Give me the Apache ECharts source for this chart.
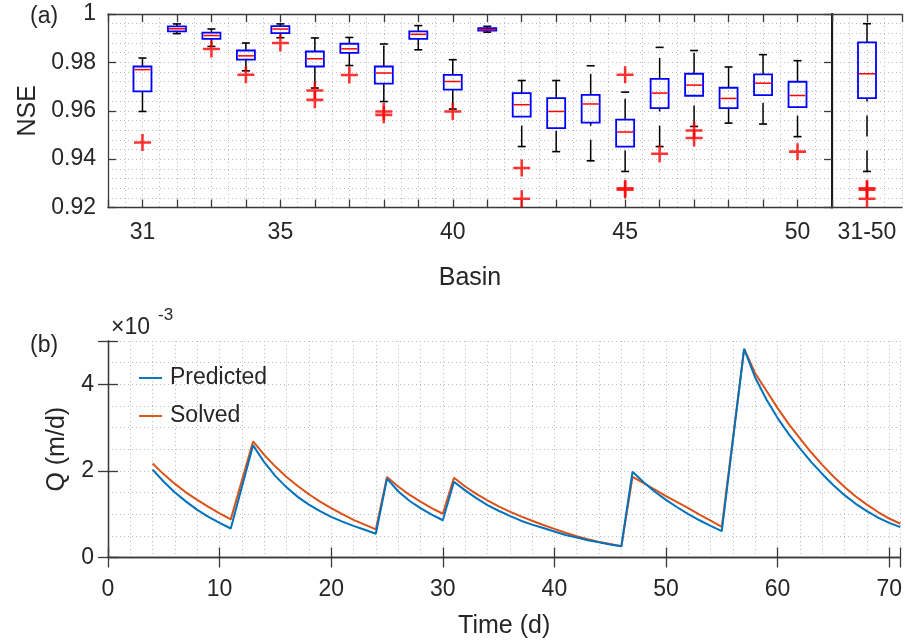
<!DOCTYPE html>
<html>
<head>
<meta charset="utf-8">
<title>NSE by basin and discharge</title>
<script src="https://cdn.jsdelivr.net/npm/echarts@6/dist/echarts.min.js"></script>
<style>
  html, body { margin: 0; padding: 0; background: #fff; }
  #chart { width: 905px; height: 640px; }
</style>
</head>
<body>
<div id="chart"></div>
<script>
// ---- Panel (a): NSE box statistics per basin ----
const BASINS        = [31, 32, 33, 34, 35, 36, 37, 38, 39, 40, 41, 42, 43, 44, 45, 46, 47, 48, 49, 50];
const LOWER_WHISKER = [0.9597, 0.9919, 0.9866, 0.9765, 0.9902, 0.9694, 0.9787, 0.9638, 0.9852, 0.9607,
                       0.9925, 0.9452, 0.9431, 0.9393, 0.9349, 0.9452, 0.9535, 0.9549, 0.9545, 0.9493];
const Q1            = [0.9680, 0.9928, 0.9897, 0.9811, 0.9921, 0.9783, 0.9839, 0.9712, 0.9897, 0.9687,
                       0.9931, 0.9576, 0.9528, 0.9551, 0.9452, 0.9611, 0.9662, 0.9611, 0.9665, 0.9615];
const MEDIAN        = [0.9770, 0.9939, 0.9911, 0.9827, 0.9938, 0.9815, 0.9856, 0.9756, 0.9916, 0.9721,
                       0.9935, 0.9625, 0.9597, 0.9628, 0.9512, 0.9673, 0.9706, 0.9651, 0.9714, 0.9663];
const Q3            = [0.9783, 0.9949, 0.9923, 0.9849, 0.9950, 0.9845, 0.9877, 0.9783, 0.9928, 0.9748,
                       0.9941, 0.9673, 0.9652, 0.9666, 0.9563, 0.9732, 0.9753, 0.9695, 0.9750, 0.9720];
const UPPER_WHISKER = [0.9818, 0.9959, 0.9938, 0.9880, 0.9959, 0.9901, 0.9903, 0.9876, 0.9952, 0.9811,
                       0.9949, 0.9725, 0.9725, 0.9786, 0.9677, 0.9862, 0.9849, 0.9781, 0.9832, 0.9807];
// [basin, NSE] outliers
const OUTLIERS = [
  [31, 0.9469], [33, 0.9855], [34, 0.9749], [35, 0.9880], [36, 0.9684], [36, 0.9645],
  [37, 0.9748], [38, 0.9597], [38, 0.9583], [40, 0.9597], [42, 0.9363], [42, 0.9236],
  [45, 0.9749], [45, 0.9280], [45, 0.9273], [46, 0.9422], [47, 0.9518], [47, 0.9487],
  [50, 0.9431]
];
const BASIN_LABELS = [31, 35, 40, 45, 50];

// All basins pooled: [lower whisker, q1, median, q3, upper whisker]
const POOLED_STATS    = [0.9349, 0.9652, 0.9753, 0.9883, 0.9960];
const POOLED_OUTLIERS = [0.9280, 0.9273, 0.9236];
const POOLED_LABEL    = '31-50';

// ---- Panel (b): discharge time series, Q in 1e-3 m/d ----
const TIME_D = [4, 5, 6, 7, 8, 9, 10, 11,
                13, 14, 15, 16, 17, 18, 19, 20, 21, 22, 23, 24,
                25, 26, 27, 28, 29, 30,
                31, 32, 33, 34, 35, 36, 37, 38, 39, 40, 41, 42, 43, 44, 45, 46,
                47, 48, 49, 50, 51, 52, 53, 54, 55,
                57, 58, 59, 60, 61, 62, 63, 64, 65, 66, 67, 68, 69, 70, 71];
const PREDICTED = [2.03, 1.75, 1.50, 1.29, 1.10, 0.94, 0.80, 0.67,
                   2.59, 2.20, 1.88, 1.62, 1.40, 1.22, 1.07, 0.94, 0.83, 0.73, 0.64, 0.55,
                   1.82, 1.53, 1.31, 1.14, 0.99, 0.86,
                   1.75, 1.55, 1.37, 1.21, 1.08, 0.96, 0.85, 0.76, 0.68, 0.60, 0.52, 0.46, 0.40, 0.35, 0.30, 0.26,
                   1.98, 1.74, 1.52, 1.33, 1.16, 1.00, 0.86, 0.73, 0.61,
                   4.82, 4.15, 3.65, 3.22, 2.85, 2.52, 2.21, 1.93, 1.67, 1.44, 1.24, 1.07, 0.92, 0.80, 0.70];
const SOLVED    = [2.17, 1.92, 1.70, 1.50, 1.33, 1.17, 1.02, 0.88,
                   2.68, 2.37, 2.10, 1.86, 1.65, 1.46, 1.29, 1.14, 1.00, 0.87, 0.76, 0.65,
                   1.86, 1.64, 1.45, 1.29, 1.14, 1.01,
                   1.84, 1.64, 1.47, 1.32, 1.18, 1.06, 0.95, 0.85, 0.75, 0.66, 0.57, 0.49, 0.42, 0.36, 0.31, 0.26,
                   1.86, 1.72, 1.57, 1.42, 1.28, 1.14, 0.99, 0.85, 0.71,
                   4.82, 4.25, 3.85, 3.45, 3.08, 2.75, 2.43, 2.14, 1.87, 1.63, 1.41, 1.22, 1.05, 0.90, 0.78];

// ---- styling ----
const FONT = '"Liberation Sans", Arial, Helvetica, sans-serif';
const INK = '#262626';
const FRAME = { color: '#3a3a3a', width: 1.3 };
const GRID_DOTS = { color: '#bdbdbd', width: 1, type: [1, 3] };
const BOX_W = 18;
const CAP_W = 8;

const boxRows = BASINS.map((b, i) => [b, LOWER_WHISKER[i], Q1[i], MEDIAN[i], Q3[i], UPPER_WHISKER[i]]);
const pooledRow = [[1].concat(POOLED_STATS)];

function renderBox(params, api) {
  const x = api.value(0);
  const lo = api.coord([x, api.value(1)]);
  const q1 = api.coord([x, api.value(2)]);
  const md = api.coord([x, api.value(3)]);
  const q3 = api.coord([x, api.value(4)]);
  const hi = api.coord([x, api.value(5)]);
  const cx = lo[0];
  const whisker = { stroke: '#000', lineWidth: 1.5, lineDash: [21, 14] };
  const cap = { stroke: '#000', lineWidth: 1.6 };
  return {
    type: 'group',
    children: [
      { type: 'line', shape: { x1: cx, y1: lo[1], x2: cx, y2: q1[1] }, style: whisker },
      { type: 'line', shape: { x1: cx, y1: q3[1], x2: cx, y2: hi[1] }, style: whisker },
      { type: 'line', shape: { x1: cx - CAP_W / 2, y1: lo[1], x2: cx + CAP_W / 2, y2: lo[1] }, style: cap },
      { type: 'line', shape: { x1: cx - CAP_W / 2, y1: hi[1], x2: cx + CAP_W / 2, y2: hi[1] }, style: cap },
      { type: 'rect', shape: { x: cx - BOX_W / 2, y: q3[1], width: BOX_W, height: q1[1] - q3[1] },
        style: { fill: 'none', stroke: '#0000ff', lineWidth: 1.8 } },
      { type: 'line', shape: { x1: cx - BOX_W / 2 + 1, y1: md[1], x2: cx + BOX_W / 2 - 1, y2: md[1] },
        style: { stroke: '#ff0000', lineWidth: 1.5 } }
    ]
  };
}

const PLUS = 'path://M8.5,0h3v8.5h8.5v3h-8.5v8.5h-3v-8.5h-8.5v-3h8.5z';
const LEGEND_LINE = 'path://M0,0H24V2H0Z';

function frameAxis(extra) {
  return Object.assign({
    type: 'value',
    axisLine: { show: true, lineStyle: FRAME },
    axisTick: { show: true, inside: true, length: 8, lineStyle: FRAME },
    axisLabel: { show: false },
    splitLine: { show: false }
  }, extra);
}
function gridOnlyAxis(extra) {
  return Object.assign({
    type: 'value',
    axisLine: { show: false },
    axisTick: { show: false },
    axisLabel: { show: false },
    splitLine: { show: true, lineStyle: GRID_DOTS }
  }, extra);
}
const labelStyle = { fontFamily: FONT, fontSize: 23, color: INK };
const nameStyle = { fontFamily: FONT, fontSize: 25, color: INK };

const chart = echarts.init(document.getElementById('chart'), null, { renderer: 'canvas' });

chart.setOption({
  animation: false,
  backgroundColor: '#fff',
  grid: [
    { left: 108, top: 14, width: 724, height: 193.5 },
    { left: 832, top: 14, width: 71, height: 193.5 },
    { left: 108, top: 341, width: 793, height: 216.5 }
  ],
  xAxis: [
    // 0: basin axis
    frameAxis({
      gridIndex: 0, min: 30, max: 51, interval: 1, position: 'bottom',
      axisLabel: Object.assign({ show: true, margin: 14,
        formatter: v => (BASIN_LABELS.indexOf(v) >= 0 ? String(v) : '') }, labelStyle),
      name: 'Basin', nameLocation: 'middle', nameGap: 58, nameTextStyle: nameStyle,
      splitLine: { show: true, lineStyle: GRID_DOTS },
      minorTick: { show: false, splitNumber: 2 },
      minorSplitLine: { show: true, lineStyle: GRID_DOTS }
    }),
    // 1: basin axis, top frame
    frameAxis({ gridIndex: 0, min: 30, max: 51, interval: 1, position: 'top' }),
    // 2: pooled axis
    frameAxis({
      gridIndex: 1, min: 0, max: 2, interval: 1, position: 'bottom',
      axisTick: { show: false },
      axisLabel: Object.assign({ show: true, margin: 14,
        formatter: v => (v === 1 ? POOLED_LABEL : '') }, labelStyle),
      splitLine: { show: true, lineStyle: GRID_DOTS },
      minorTick: { show: false, splitNumber: 2 },
      minorSplitLine: { show: true, lineStyle: GRID_DOTS }
    }),
    // 3: pooled axis, top frame
    frameAxis({ gridIndex: 1, min: 0, max: 2, interval: 1, position: 'top' }),
    // 4: time axis
    frameAxis({
      gridIndex: 2, min: 0, max: 71, interval: 10, position: 'bottom',
      axisTick: { show: true, inside: true, length: 10, lineStyle: FRAME },
      axisLabel: Object.assign({ show: true, margin: 21,
        formatter: v => (v % 10 === 0 ? String(v) : '') }, labelStyle),
      name: 'Time (d)', nameLocation: 'middle', nameGap: 56, nameTextStyle: nameStyle
    }),
    // 5: time axis, top frame
    frameAxis({ gridIndex: 2, min: 0, max: 71, interval: 10, position: 'top',
      axisTick: { show: true, inside: true, length: 10, lineStyle: FRAME } }),
    // 6: fine time grid
    gridOnlyAxis({ gridIndex: 2, min: 0, max: 71, interval: 2, position: 'bottom' })
  ],
  yAxis: [
    // 0: NSE axis
    frameAxis({
      gridIndex: 0, min: 0.92, max: 1, interval: 0.02, position: 'left',
      axisLabel: Object.assign({ show: true, margin: 12 }, labelStyle),
      name: 'NSE', nameLocation: 'middle', nameGap: 66, nameTextStyle: nameStyle,
      splitLine: { show: true, lineStyle: GRID_DOTS },
      minorTick: { show: false, splitNumber: 5 },
      minorSplitLine: { show: true, lineStyle: GRID_DOTS }
    }),
    // 1: pooled NSE axis (right frame with ticks)
    frameAxis({
      gridIndex: 1, min: 0.92, max: 1, interval: 0.02, position: 'right',
      splitLine: { show: true, lineStyle: GRID_DOTS },
      minorTick: { show: false, splitNumber: 5 },
      minorSplitLine: { show: true, lineStyle: GRID_DOTS }
    }),
    // 2: divider between the two boxplot panels
    frameAxis({
      gridIndex: 1, min: 0.92, max: 1, position: 'left',
      axisLine: { show: true, lineStyle: { color: '#1a1a1a', width: 2 } },
      axisTick: { show: false }
    }),
    // 3: Q axis
    frameAxis({
      gridIndex: 2, min: 0, max: 5, interval: 2, position: 'left',
      axisTick: { show: true, inside: true, length: 10, lineStyle: FRAME },
      axisLabel: Object.assign({ show: true, margin: 14,
        formatter: v => (v % 2 === 0 ? String(v) : '') }, labelStyle),
      name: 'Q (m/d)', nameLocation: 'middle', nameGap: 38, nameTextStyle: nameStyle
    }),
    // 4: Q axis, right frame
    frameAxis({ gridIndex: 2, min: 0, max: 5, interval: 2, position: 'right',
      axisTick: { show: true, inside: true, length: 10, lineStyle: FRAME } }),
    // 5: fine Q grid
    gridOnlyAxis({ gridIndex: 2, min: 0, max: 5, interval: 0.5, position: 'left' })
  ],
  legend: {
    left: 134, top: 361, orient: 'vertical',
    icon: LEGEND_LINE, itemWidth: 23, itemHeight: 2, itemGap: 14,
    textStyle: { fontFamily: FONT, fontSize: 23, color: INK, lineHeight: 24, padding: [0, 0, 0, 3] },
    data: ['Predicted', 'Solved']
  },
  series: [
    {
      type: 'custom', name: 'basin boxes', xAxisIndex: 0, yAxisIndex: 0,
      renderItem: renderBox, data: boxRows, clip: false,
      encode: { x: 0, y: [1, 2, 3, 4, 5] }, z: 3
    },
    {
      type: 'scatter', name: 'basin outliers', xAxisIndex: 0, yAxisIndex: 0,
      data: OUTLIERS, symbol: PLUS, symbolSize: 17,
      itemStyle: { color: '#ff0000' }, z: 4
    },
    {
      type: 'custom', name: 'pooled box', xAxisIndex: 2, yAxisIndex: 1,
      renderItem: renderBox, data: pooledRow, clip: false,
      encode: { x: 0, y: [1, 2, 3, 4, 5] }, z: 3
    },
    {
      type: 'scatter', name: 'pooled outliers', xAxisIndex: 2, yAxisIndex: 1,
      data: POOLED_OUTLIERS.map(v => [1, v]), symbol: PLUS, symbolSize: 17,
      itemStyle: { color: '#ff0000' }, z: 4
    },
    {
      type: 'line', name: 'Predicted', xAxisIndex: 4, yAxisIndex: 3,
      data: TIME_D.map((t, i) => [t, PREDICTED[i]]),
      symbol: 'none', lineStyle: { color: '#0072BD', width: 2 }, itemStyle: { color: '#0072BD' }, z: 5
    },
    {
      type: 'line', name: 'Solved', xAxisIndex: 4, yAxisIndex: 3,
      data: TIME_D.map((t, i) => [t, SOLVED[i]]),
      symbol: 'none', lineStyle: { color: '#D95319', width: 2 }, itemStyle: { color: '#D95319' }, z: 4
    }
  ],
  graphic: [
    { type: 'text', left: 30, top: 5, style: { text: '(a)', fontFamily: FONT, fontSize: 23, fill: INK } },
    { type: 'text', left: 30, top: 334, style: { text: '(b)', fontFamily: FONT, fontSize: 23, fill: INK } },
    { type: 'text', left: 111, top: 316, style: { text: '\u00d710', fontFamily: FONT, fontSize: 23, fill: INK } },
    { type: 'text', left: 158, top: 307, style: { text: '-3', fontFamily: FONT, fontSize: 17, fill: INK } }
  ]
});
</script>
</body>
</html>
